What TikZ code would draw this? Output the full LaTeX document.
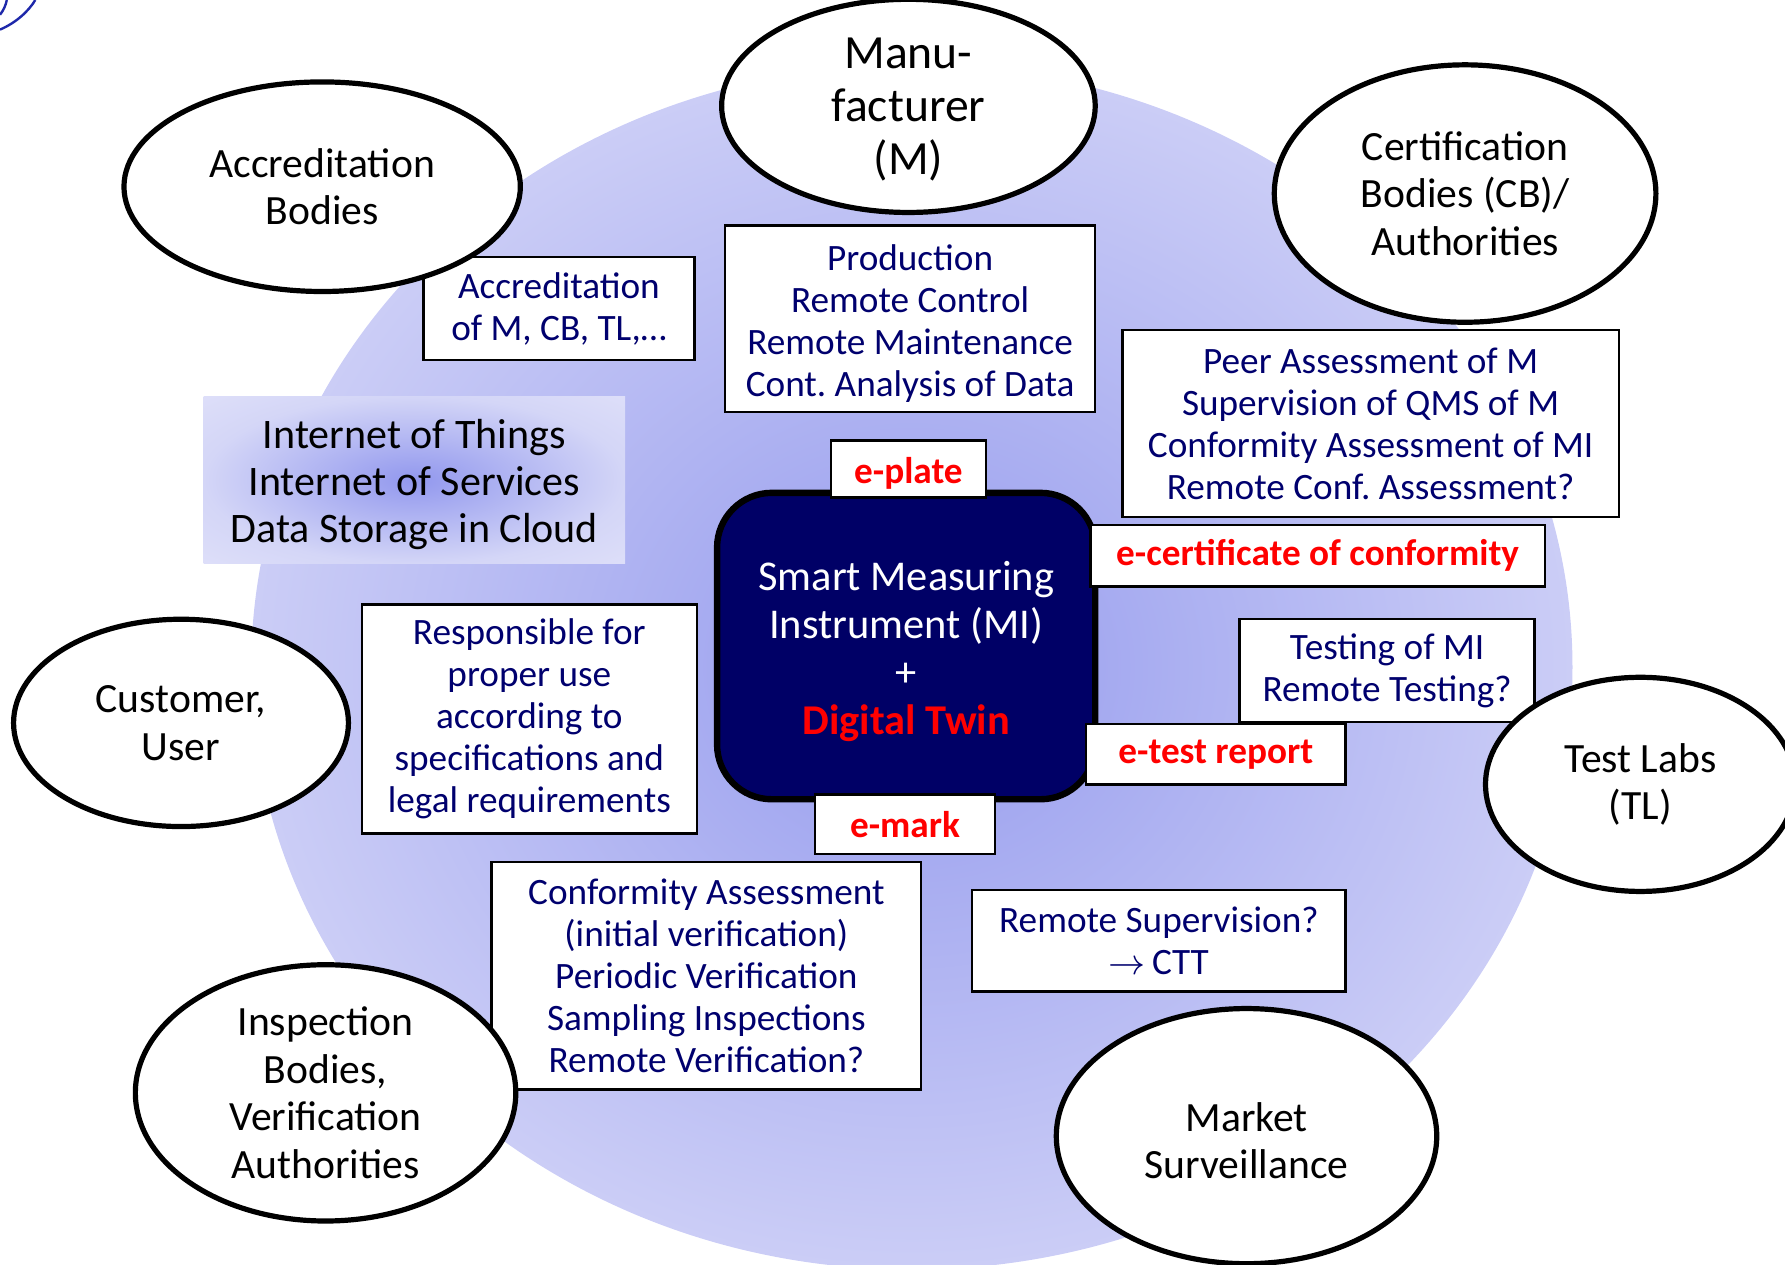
\documentclass[tikz,border=0pt]{standalone}
\usepackage{fontspec}
\setmainfont{Carlito}
\usetikzlibrary{shapes.geometric}
\frenchspacing
\definecolor{navytxt}{RGB}{0,0,110}
\definecolor{navybox}{RGB}{0,0,102}
\definecolor{diskin}{RGB}{150,156,238}
\definecolor{diskout}{RGB}{203,205,246}
\definecolor{iotin}{RGB}{146,152,238}
\definecolor{iotout}{RGB}{212,214,247}
\definecolor{iotcorner}{RGB}{222,223,249}
\definecolor{arcblue}{RGB}{30,40,170}
\pgfdeclareradialshading{diskshade}{\pgfpoint{0bp}{0bp}}{color(0bp)=(diskin); color(25bp)=(diskout); color(50bp)=(diskout)}
\pgfdeclareradialshading{iotshade}{\pgfpoint{0bp}{0bp}}{color(0bp)=(iotin); color(25bp)=(iotout); color(36bp)=(iotcorner); color(50bp)=(iotcorner)}
\newcommand{\topup}[1]{\rule{0pt}{#1}}
\tikzset{
  party/.style={ellipse, draw=black, line width=1.3pt, fill=white, align=center, inner sep=0pt,
    font=\fontsize{10.4}{11.9}\selectfont},
  infobox/.style={rectangle, draw=black, line width=0.6pt, fill=white, align=center, inner sep=0pt,
    text=navytxt, font=\fontsize{9.3}{10.5}\selectfont},
  tagbox/.style={rectangle, draw=black, line width=0.6pt, fill=white, inner sep=0pt,
    text=red, font=\bfseries\fontsize{9.3}{10.5}\selectfont},
  corebox/.style={rectangle, rounded corners=0.48cm, draw=black, line width=1.6pt, fill=navybox,
    text=white, align=center, inner sep=0pt, font=\fontsize{10.6}{12}\selectfont},
  cloudbox/.style={rectangle, shading=iotshade, align=center, inner sep=0pt,
    font=\fontsize{10.5}{11.85}\selectfont},
  tinyarc/.style={draw=arcblue, line width=0.6pt}
}
\begin{document}
\begin{tikzpicture}[x=0.01cm,y=-0.01cm]
\useasboundingbox (0,0) rectangle (1568,1111);
\clip (0,0) rectangle (1568,1111);
% background disk
\shade[shading=diskshade] (801,586) ellipse [x radius=5.80cm, y radius=5.29cm];
% small arcs top left
\draw[tinyarc] (0,26) .. controls (14,20) and (25,10) .. (31,0);
\draw[tinyarc] (0,13) .. controls (3,9) and (5,5) .. (6,0);
% cloud box
\node[cloudbox, minimum width=3.70cm, minimum height=1.47cm] (iot) at (364,421.5)
  {\topup{9.6pt}Internet of Things\\Internet of Services\\Data Storage in Cloud};
% info boxes
\node[infobox, minimum width=2.38cm, minimum height=0.90cm] (accbox) at (491,271)
  {Accreditation\\of M, CB, TL,…};
\node[infobox, minimum width=3.25cm, minimum height=1.64cm] (prod) at (799.5,280)
  {\topup{8.7pt}Production\\Remote Control\\Remote Maintenance\\Cont. Analysis of Data};
\node[infobox, minimum width=4.36cm, minimum height=1.64cm] (peer) at (1204,372)
  {Peer Assessment of M\\Supervision of QMS of M\\Conformity Assessment of MI\\Remote Conf. Assessment?};
\node[infobox, minimum width=2.59cm, minimum height=0.90cm] (testing) at (1218.5,589)
  {Testing of MI\\Remote Testing?};
\node[infobox, minimum width=2.94cm, minimum height=2.01cm] (resp) at (465,631.5)
  {Responsible for\\proper use\\according to\\specifications and\\legal requirements};
\node[infobox, minimum width=3.77cm, minimum height=2.00cm] (conf) at (620.5,857)
  {Conformity Assessment\\(initial verification)\\Periodic Verification\\Sampling Inspections\\Remote Verification?};
\node[infobox, minimum width=3.28cm, minimum height=0.89cm] (remsup) at (1018,826.5)
  {Remote Supervision?\\$\rightarrow$\,CTT};
% core
\node[corebox, minimum width=3.32cm, minimum height=2.69cm] (core) at (796,567.5)
  {\topup{9.9pt}Smart Measuring\\Instrument (MI)\\+\\{\color{red}\bfseries Digital Twin}};
% tags
\node[tagbox, minimum width=1.36cm, minimum height=0.50cm] (eplate) at (798,412) {\topup{8.7pt}e-plate};
\node[tagbox, minimum width=3.99cm, minimum height=0.54cm] (ecert) at (1157.5,488) {e-certificate of conformity};
\node[tagbox, minimum width=2.28cm, minimum height=0.53cm] (etest) at (1068,662.5) {e-test report};
\node[tagbox, minimum width=1.58cm, minimum height=0.52cm] (emark) at (795,724) {e-mark};
% parties
\node[party, minimum width=3.48cm, minimum height=1.84cm] (accr) at (283,164) {Accreditation\\Bodies};
\node[party, minimum width=3.28cm, minimum height=1.72cm, font=\fontsize{11.9}{13.3}\selectfont] (manu) at (798,93)
  {\topup{9.4pt}Manu-\\facturer\\(M)};
\node[party, minimum width=3.35cm, minimum height=2.26cm] (cert) at (1287,170)
  {Certification\\Bodies (CB)/\\Authorities};
\node[party, minimum width=2.94cm, minimum height=1.82cm] (cust) at (159,635) {Customer,\\User};
\node[party, minimum width=2.72cm, minimum height=1.88cm] (tl) at (1441,689) {Test Labs\\(TL)};
\node[party, minimum width=3.34cm, minimum height=2.25cm] (insp) at (286,960)
  {Inspection\\Bodies,\\Verification\\Authorities};
\node[party, minimum width=3.34cm, minimum height=2.24cm] (mkt) at (1095,998) {\topup{9.5pt}Market\\Surveillance};
\end{tikzpicture}
\end{document}
